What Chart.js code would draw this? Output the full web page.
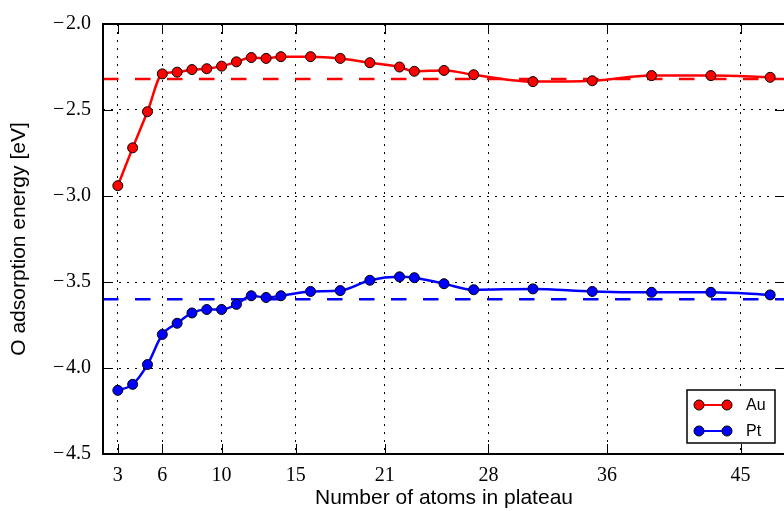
<!DOCTYPE html>
<html>
<head>
<meta charset="utf-8">
<script src="https://cdn.jsdelivr.net/npm/chart.js@4.4.1/dist/chart.umd.min.js"></script>
<style>
  html, body { margin: 0; padding: 0; background: #fff; overflow: hidden; }
  #wrap { position: absolute; left: 0; top: 0; width: 791px; height: 511px; }
</style>
</head>
<body>
<div id="wrap"><canvas id="plateauChart"></canvas></div>
<script>
// Number of atoms in the plateau
const atoms = [3, 4, 5, 6, 7, 8, 9, 10, 11, 12, 13, 14, 16, 18, 20, 22, 23, 25, 27, 31, 35, 39, 43, 47];

// O adsorption energy [eV]
const auEnergy = [-2.94, -2.72, -2.51, -2.29, -2.28, -2.265, -2.26, -2.245, -2.22, -2.195, -2.20, -2.19,
                  -2.19, -2.20, -2.225, -2.25, -2.275, -2.27, -2.295, -2.335, -2.33, -2.30, -2.30, -2.31];
const ptEnergy = [-4.13, -4.095, -3.98, -3.805, -3.74, -3.68, -3.66, -3.66, -3.63, -3.58, -3.59, -3.58,
                  -3.555, -3.55, -3.49, -3.47, -3.475, -3.51, -3.545, -3.54, -3.555, -3.56, -3.56, -3.575];

// Reference levels (dashed lines)
const auReference = -2.32;
const ptReference = -3.60;

const xTicks = [3, 6, 10, 15, 21, 28, 36, 45];
const yTicks = [-2.0, -2.5, -3.0, -3.5, -4.0, -4.5];
const xRange = [2, 48];
const yRange = [-4.5, -2.0];

const tickFont = { family: 'Liberation Serif', size: 20 };
const labelFont = { family: 'Liberation Sans', size: 21 };

function series(ys) {
    return atoms.map((a, i) => ({ x: a, y: ys[i] }));
}

function level(v) {
    return [{ x: xRange[0], y: v }, { x: xRange[1], y: v }];
}

// Frame, inward ticks and the legend box
const framePlugin = {
    id: 'frame',
    afterDatasetsDraw(chart) {
        const { ctx, chartArea: a, scales: { x, y } } = chart;
        ctx.save();
        ctx.strokeStyle = '#000';
        ctx.lineWidth = 1;
        ctx.beginPath();
        xTicks.forEach(v => {
            const px = Math.round(x.getPixelForValue(v)) + 0.5;
            ctx.moveTo(px, a.bottom); ctx.lineTo(px, a.bottom - 10);
            ctx.moveTo(px, a.top); ctx.lineTo(px, a.top + 10);
        });
        yTicks.forEach(v => {
            const py = Math.round(y.getPixelForValue(v)) + 0.5;
            ctx.moveTo(a.left, py); ctx.lineTo(a.left + 10, py);
            ctx.moveTo(a.right, py); ctx.lineTo(a.right - 10, py);
        });
        ctx.stroke();
        ctx.lineWidth = 2;
        ctx.strokeRect(a.left, a.top, a.right - a.left, a.bottom - a.top);
        ctx.restore();
    },
    afterDraw(chart) {
        const { ctx, chartArea: a } = chart;
        const items = chart.data.datasets.filter(d => d.inLegend);
        const w = 88, h = 53;
        const left = a.right - 10 - w, top = a.bottom - 11 - h;
        ctx.save();
        ctx.fillStyle = '#fff';
        ctx.fillRect(left, top, w, h);
        ctx.strokeStyle = '#000';
        ctx.lineWidth = 1.5;
        ctx.strokeRect(left, top, w, h);
        items.forEach((d, i) => {
            const cy = top + 15 + i * 26;
            ctx.strokeStyle = d.borderColor;
            ctx.lineWidth = 2;
            ctx.beginPath();
            ctx.moveTo(left + 12, cy); ctx.lineTo(left + 40, cy);
            ctx.stroke();
            [left + 12, left + 40].forEach(mx => {
                ctx.beginPath();
                ctx.arc(mx, cy, 5, 0, Math.PI * 2);
                ctx.fillStyle = d.backgroundColor;
                ctx.fill();
                ctx.lineWidth = 1;
                ctx.strokeStyle = '#000';
                ctx.stroke();
            });
            ctx.fillStyle = '#000';
            ctx.font = '16px "Liberation Sans"';
            ctx.textBaseline = 'middle';
            ctx.fillText(d.label, left + 59, cy + 1);
        });
        ctx.restore();
    }
};

const ctx = document.getElementById('plateauChart').getContext('2d');

new Chart(ctx, {
    type: 'line',
    data: {
        datasets: [
            {
                label: 'Au',
                inLegend: true,
                data: series(auEnergy),
                borderColor: '#ff0000',
                backgroundColor: '#ff0000',
                borderWidth: 2.5,
                pointRadius: 5,
                pointBorderColor: '#000',
                pointBorderWidth: 1,
                cubicInterpolationMode: 'monotone',
                order: 0
            },
            {
                label: 'Pt',
                inLegend: true,
                data: series(ptEnergy),
                borderColor: '#0000ff',
                backgroundColor: '#0000ff',
                borderWidth: 2.5,
                pointRadius: 5,
                pointBorderColor: '#000',
                pointBorderWidth: 1,
                cubicInterpolationMode: 'monotone',
                order: 0
            },
            {
                label: 'Au reference',
                data: level(auReference),
                borderColor: '#ff0000',
                borderWidth: 2.5,
                borderDash: [15.5, 16.5],
                pointRadius: 0,
                order: 1
            },
            {
                label: 'Pt reference',
                data: level(ptReference),
                borderColor: '#0000ff',
                borderWidth: 2.5,
                borderDash: [15.5, 16.5],
                pointRadius: 0,
                order: 1
            }
        ]
    },
    options: {
        animation: false,
        responsive: true,
        maintainAspectRatio: false,
        layout: { padding: { top: 18, right: 0, bottom: 0, left: 0 } },
        plugins: { legend: { display: false }, tooltip: { enabled: false } },
        scales: {
            x: {
                type: 'linear',
                min: xRange[0],
                max: xRange[1],
                afterBuildTicks: s => { s.ticks = xTicks.map(v => ({ value: v })); },
                afterFit: s => { s.height = 57; },
                grid: { color: '#000', lineWidth: 1, drawTicks: false },
                border: { display: false, dash: [2, 6] },
                ticks: { color: '#000', font: tickFont, padding: 10, maxRotation: 0, autoSkip: false },
                title: { display: true, text: 'Number of atoms in plateau', color: '#000', font: labelFont, padding: 0 }
            },
            y: {
                type: 'linear',
                min: yRange[0],
                max: yRange[1],
                afterBuildTicks: s => { s.ticks = yTicks.map(v => ({ value: v })); },
                afterFit: s => { s.width = 103; },
                grid: { color: '#000', lineWidth: 1, drawTicks: false },
                border: { display: false, dash: [2, 6] },
                ticks: {
                    color: '#000', font: tickFont, padding: 12, autoSkip: false,
                    callback: v => (v < 0 ? '\u2212\u200A' : '') + Math.abs(v).toFixed(1)
                },
                title: { display: true, text: 'O adsorption energy [eV]', color: '#000', font: labelFont, padding: { top: 7, bottom: 0 } }
            }
        }
    },
    plugins: [framePlugin]
});
</script>
</body>
</html>
